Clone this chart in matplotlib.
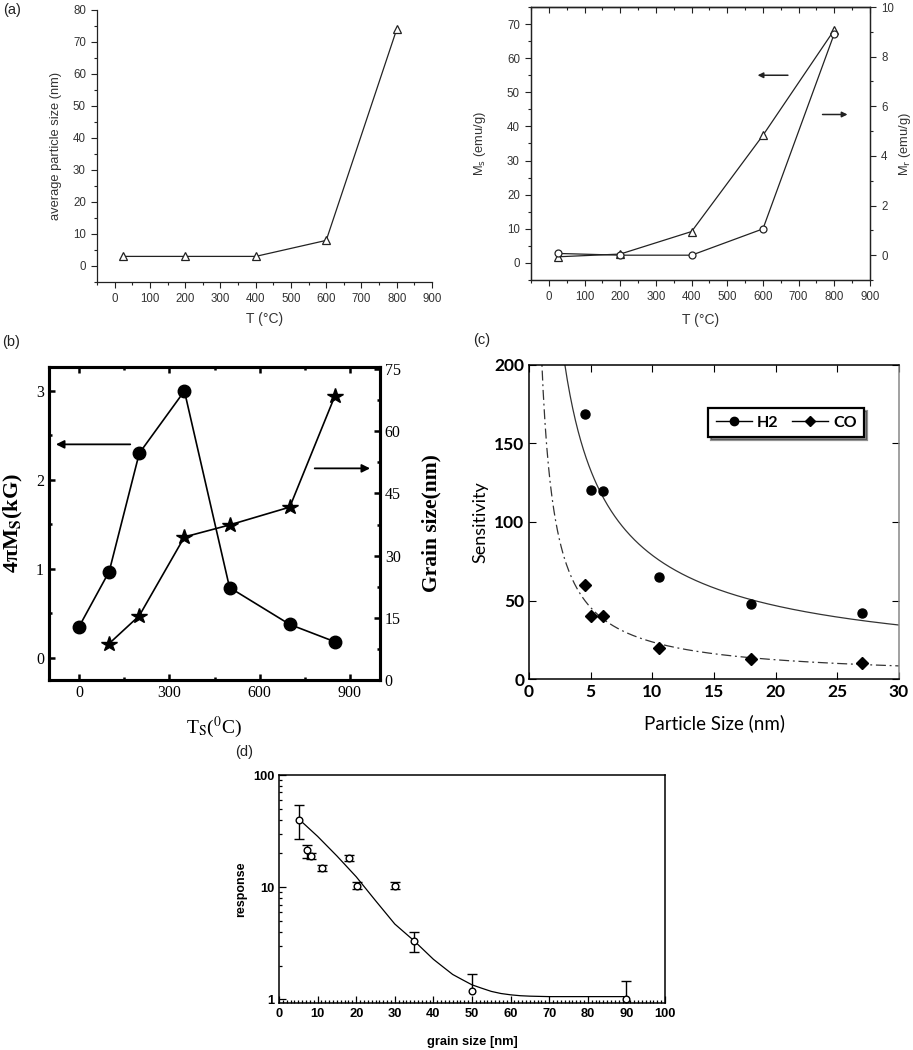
import matplotlib.pyplot as plt
import numpy as np
from matplotlib.ticker import MultipleLocator, LogLocator, NullFormatter, FuncFormatter
from matplotlib.lines import Line2D

# (a) particle size and magnetisation vs annealing temperature
temp_a = [25, 200, 400, 600, 800]
size_a = [3, 3, 3, 8, 74]
ms_a = [1.8, 2.6, 9.2, 37.4, 68.3]
mr_a = [0.07, 0.0, 0.0, 1.06, 8.93]

# (b) 4piMs and grain size vs substrate temperature
ts_b = [0, 100, 200, 350, 500, 700, 850]
ms_b = [0.35, 0.97, 2.3, 3.0, 0.79, 0.375, 0.18]
ts_grain_b = [100, 200, 350, 500, 700, 850]
grain_b = [8.8, 15.5, 34.5, 37.4, 41.7, 68.5]

# (c) sensitivity vs particle size
size_c = [4.5, 5, 6, 10.5, 18, 27]
h2_c = [169, 120.5, 120, 64.7, 47.7, 42]
co_c = [59.6, 39.9, 39.9, 19.7, 12.9, 10.2]

# (d) response vs grain size
grain_d = [5.3, 7.2, 8.2, 11.2, 18.2, 20.1, 30.1, 35, 50, 90]
resp_d = [40, 21.3, 18.9, 14.9, 18.3, 10.35, 10.35, 3.33, 1.2, 1.01]
err_lo_d = [12.9, 3.0, 1.1, 0.9, 1.1, 0.8, 0.8, 0.68, 0, 0]
err_hi_d = [13.9, 2.3, 1.1, 0.9, 1.1, 0.8, 0.8, 0.67, 0.49, 0.46]
fit_x_d = [5.3, 10, 15, 20, 25, 30, 35, 40, 42.5, 45, 47.5, 50, 52.5, 55, 57.5,
           60, 62.5, 65, 70, 80, 90]
fit_y_d = [40, 28.4, 19.0, 12.4, 7.6, 4.7, 3.33, 2.28, 1.95, 1.67, 1.5, 1.35, 1.26,
           1.18, 1.13, 1.1, 1.08, 1.07, 1.06, 1.06, 1.06]

SANS = 'Liberation Sans'
SERIF = 'Liberation Serif'
OPT = 'Lato'
DARK = '#222222'
GREY = '#333333'

fig = plt.figure(figsize=(9.13, 10.5), dpi=100)


def px_axes(left, top, right, bottom):
    W, H = 913, 1050
    return fig.add_axes([left / W, 1 - bottom / H, (right - left) / W, (bottom - top) / H])


def origin_ticks(ax):
    ax.tick_params(which='both', direction='out', color=DARK, labelsize=8.3,
                   labelcolor=GREY, labelfontfamily=SANS, width=0.8)
    ax.tick_params(which='major', length=4.5)
    ax.tick_params(which='minor', length=2.5)


# ---- (a) left
ax = px_axes(97, 10, 432, 282)
ax.plot(temp_a, size_a, color=DARK, lw=0.9, marker='^', mfc='white', mec=DARK, ms=5.5, mew=0.9)
ax.set_xlim(-50, 900)
ax.set_ylim(-5, 80)
ax.spines[['top', 'right']].set_visible(False)
for s in ax.spines.values():
    s.set_color(DARK)
    s.set_linewidth(0.9)
ax.xaxis.set_major_locator(MultipleLocator(100))
ax.xaxis.set_minor_locator(MultipleLocator(50))
ax.yaxis.set_major_locator(MultipleLocator(10))
ax.yaxis.set_minor_locator(MultipleLocator(5))
origin_ticks(ax)
ax.set_ylabel('average particle size (nm)', fontsize=9.3, family=SANS, color=GREY)
ax.set_xlabel('T (°C)', fontsize=10, family=SANS, color=GREY)
ax.yaxis.set_label_coords(-0.104, 0.5)
ax.xaxis.set_label_coords(0.5, -0.110)

# ---- (a) right
ax = px_axes(531, 7, 870, 280)
ax2 = ax.twinx()
ax.plot(temp_a, ms_a, color=DARK, lw=0.9, marker='^', mfc='white', mec=DARK, ms=5.5, mew=0.9)
ax2.plot(temp_a, mr_a, color=DARK, lw=0.9, marker='o', mfc='white', mec=DARK, ms=5, mew=0.9)
ax.set_xlim(-50, 900)
ax.set_ylim(-5, 75)
ax2.set_ylim(-1, 10)
for a in (ax, ax2):
    for s in a.spines.values():
        s.set_color(DARK)
        s.set_linewidth(0.9)
    origin_ticks(a)
ax.xaxis.set_major_locator(MultipleLocator(100))
ax.xaxis.set_minor_locator(MultipleLocator(50))
ax.yaxis.set_major_locator(MultipleLocator(10))
ax.yaxis.set_minor_locator(MultipleLocator(5))
ax2.yaxis.set_major_locator(MultipleLocator(2))
ax2.yaxis.set_minor_locator(MultipleLocator(1))
top = ax.secondary_xaxis('top')
top.xaxis.set_major_locator(MultipleLocator(100))
top.xaxis.set_minor_locator(MultipleLocator(50))
top.tick_params(which='both', direction='in', labeltop=False, color=DARK, width=0.8)
top.tick_params(which='major', length=4.5)
top.tick_params(which='minor', length=2.5)
top.spines['top'].set_linewidth(0.9)
ax.set_ylabel('M$_\\mathrm{s}$ (emu/g)', fontsize=9.3, family=SANS, color=GREY,
              math_fontfamily='dejavusans')
ax2.set_ylabel('M$_\\mathrm{r}$ (emu/g)', fontsize=9.3, family=SANS, color=GREY,
               math_fontfamily='dejavusans')
ax.set_xlabel('T (°C)', fontsize=10, family=SANS, color=GREY)
ax.yaxis.set_label_coords(-0.127, 0.5)
ax2.yaxis.set_label_coords(1.080, 0.5)
ax.xaxis.set_label_coords(0.5, -0.121)
arrow = dict(arrowstyle='-|>', color=DARK, lw=1.1, mutation_scale=8, shrinkA=0, shrinkB=0)
ax.annotate('', xy=(585, 55), xytext=(670, 55), arrowprops=arrow)
ax.annotate('', xy=(837, 43.5), xytext=(767, 43.5), arrowprops=arrow)

# ---- (b)
ax = px_axes(49, 367, 380, 680)
ax2 = ax.twinx()
ax.plot(ts_b, ms_b, color='k', lw=1.2, marker='o', ms=9)
ax2.plot(ts_grain_b, grain_b, color='k', lw=1.2, marker='*', ms=11.5)
ax.set_xlim(-100, 1000)
ax.set_ylim(-0.25, 3.27)
ax2.set_ylim(0, 75.5)
ax.xaxis.set_major_locator(MultipleLocator(300))
ax.xaxis.set_minor_locator(MultipleLocator(150))
ax.yaxis.set_major_locator(MultipleLocator(1))
ax.yaxis.set_minor_locator(MultipleLocator(0.5))
ax2.yaxis.set_major_locator(MultipleLocator(15))
ax2.yaxis.set_minor_locator(MultipleLocator(7.5))
for a in (ax, ax2):
    for s in a.spines.values():
        s.set_linewidth(2.2)
    a.tick_params(which='both', direction='in', labelsize=11.5, labelfontfamily=SERIF,
                  width=1.8)
    a.tick_params(which='major', length=4)
    a.tick_params(which='minor', length=2.5)
ax.tick_params(which='both', top=True, right=False)
ax2.tick_params(which='both', left=False)
ax.set_ylabel('4πM$_\\mathbf{S}$(kG)', fontsize=16, family=SERIF, fontweight='bold',
              math_fontfamily='stix')
ax2.set_ylabel('Grain size(nm)', fontsize=15.5, family=SERIF, fontweight='bold')
ax.set_xlabel('T$_\\mathrm{S}$($^\\mathrm{0}$C)', fontsize=14, family=SERIF,
              math_fontfamily='stix')
ax.yaxis.set_label_coords(-0.0725, 0.5)
ax2.yaxis.set_label_coords(1.124, 0.5)
ax.xaxis.set_label_coords(0.5, -0.112)
arrow = dict(arrowstyle='-|>', color='k', lw=1.3, mutation_scale=12, shrinkA=0, shrinkB=0)
ax.annotate('', xy=(-77, 2.4), xytext=(170, 2.4), arrowprops=arrow)
ax.annotate('', xy=(967, 2.13), xytext=(783, 2.13), arrowprops=arrow)

# ---- (c)
ax = px_axes(529, 365, 899, 679)
xs = np.linspace(1.0, 30, 400)
for vals, style in ((h2_c, '-'), (co_c, (0, (8, 3, 1.5, 3)))):
    slope, icpt = np.polyfit(np.log(size_c), np.log(vals), 1)
    ax.plot(xs, np.exp(icpt) * xs ** slope, color=GREY, lw=0.9, ls=style)
ax.plot(size_c, h2_c, 'o', color='k', ms=6.5, ls='none')
ax.plot(size_c, co_c, 'D', color='k', ms=6, ls='none')
ax.set_xlim(0, 30)
ax.set_ylim(0, 200)
ax.xaxis.set_major_locator(MultipleLocator(5))
ax.yaxis.set_major_locator(MultipleLocator(50))
ax.tick_params(which='both', direction='in', top=True, right=True, length=5,
               labelsize=12.5, labelfontfamily=OPT)
for lab in ax.get_xticklabels() + ax.get_yticklabels():
    lab.set_fontweight('bold')
for s in ax.spines.values():
    s.set_linewidth(1.1)
ax.spines['right'].set_color('#888888')
ax.set_ylabel('Sensitivity', fontsize=13, family=OPT)
ax.set_xlabel('Particle Size (nm)', fontsize=13.5, family=OPT)
ax.yaxis.set_label_coords(-0.111, 0.5)
ax.xaxis.set_label_coords(0.5, -0.112)
handles = [Line2D([], [], color='k', marker='o', ms=6, lw=1),
           Line2D([], [], color='k', marker='D', ms=5.5, lw=1)]
leg = ax.legend(handles, ['H2', 'CO'], ncol=2, loc='upper right', bbox_to_anchor=(0.905, 0.862),
                fancybox=False, shadow={'color': '0.15'}, edgecolor='k', framealpha=1,
                handlelength=2.3, columnspacing=0.8, handletextpad=0.3, borderpad=0.45,
                borderaxespad=0, prop={'family': OPT, 'size': 11.5, 'weight': 'bold'})
leg.get_frame().set_linewidth(1.6)

# ---- (d)
ax = px_axes(279, 775, 665, 1003)
g = np.array(grain_d)
r = np.array(resp_d)
lo = r - np.array(err_lo_d)
hi = r + np.array(err_hi_d)
ax.vlines(g, lo, hi, color='k', lw=1)
has_lo = np.array(err_lo_d) > 0
ax.plot(g[has_lo], lo[has_lo], ls='none', marker='_', ms=7.5, mew=1, color='k')
ax.plot(g, hi, ls='none', marker='_', ms=7.5, mew=1, color='k')
ax.plot(fit_x_d, fit_y_d, color='k', lw=0.9)
ax.plot(g, r, 'o', mfc='white', mec='k', ms=4.8, mew=1, ls='none')
ax.set_yscale('log')
ax.set_xlim(0, 100)
ax.set_ylim(0.93, 100)
ax.xaxis.set_major_locator(MultipleLocator(10))
ax.xaxis.set_minor_locator(MultipleLocator(1))
ax.yaxis.set_major_locator(LogLocator(base=10))
ax.yaxis.set_minor_locator(LogLocator(base=10, subs=np.arange(2, 10)))
ax.yaxis.set_minor_formatter(NullFormatter())
ax.yaxis.set_major_formatter(FuncFormatter(lambda v, p: f'{v:g}'))
ax.tick_params(which='both', direction='in', labelsize=9.3, labelfontfamily=SANS, width=0.9)
ax.tick_params(which='major', length=5)
ax.tick_params(which='minor', length=2.5)
for lab in ax.get_xticklabels() + ax.get_yticklabels():
    lab.set_fontweight('bold')
for s in ax.spines.values():
    s.set_linewidth(1.1)
ax.set_ylabel('response', fontsize=9, family=SANS, fontweight='bold')
ax.set_xlabel('grain size [nm]', fontsize=9.3, family=SANS, fontweight='bold')
ax.yaxis.set_label_coords(-0.083, 0.5)
ax.xaxis.set_label_coords(0.5, -0.145)

# panel letters
for x, y, t in ((3, 3, '(a)'), (2, 335, '(b)'), (473, 333, '(c)'), (235, 745, '(d)')):
    fig.text(x / 913, 1 - y / 1050, t, fontsize=10.5, family=SANS, va='top', ha='left',
             color=DARK)

fig.savefig('out.png', dpi=100)
